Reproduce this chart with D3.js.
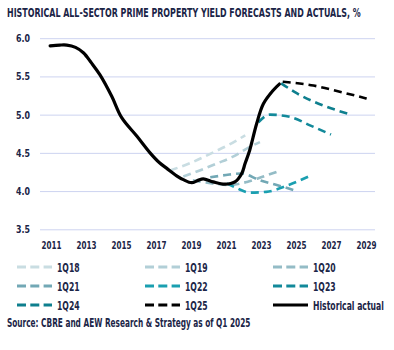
<!DOCTYPE html>
<html>
<head>
<meta charset="utf-8">
<script src="https://cdn.jsdelivr.net/npm/d3@7"></script>
<style>
  body { margin: 0; background: #fff; }
  text { font-family: "DejaVu Sans Condensed", "DejaVu Sans", sans-serif; fill: #1b2547; font-weight: bold; }
</style>
</head>
<body>
<div class="chart"></div>
<script>
var histYears = [2010.95, 2011.5, 2011.9, 2012.4, 2012.85, 2013.3, 2013.8, 2014.47, 2015.04, 2015.9, 2016.66, 2017.2, 2017.6, 2018.18, 2018.56, 2019.04, 2019.4, 2019.7, 2020.27, 2020.94, 2021.51, 2021.9, 2022.09, 2022.35, 2022.75, 2023.13, 2023.7, 2024.05];
var histValues = [5.90, 5.91, 5.91, 5.88, 5.81, 5.68, 5.52, 5.24, 4.96, 4.72, 4.50, 4.37, 4.30, 4.20, 4.15, 4.11, 4.14, 4.16, 4.12, 4.09, 4.12, 4.23, 4.36, 4.53, 4.88, 5.14, 5.32, 5.40];

var forecastNames = ["1Q18", "1Q19", "1Q20", "1Q21", "1Q22", "1Q23", "1Q24", "1Q25"];
var forecastYears = [
    [2017.8, 2019, 2020.3, 2021.2, 2022.1],
    [2018.56, 2019.5, 2020.47, 2021.4, 2022.37, 2022.94],
    [2019.1, 2020.2, 2021.2, 2022.2, 2023, 2024],
    [2020.1, 2021, 2021.9, 2022.94, 2023.9, 2025.04],
    [2021.04, 2021.6, 2022.37, 2023.3, 2024.47, 2025.9],
    [2022.85, 2023.5, 2024.66, 2025.8, 2027.0],
    [2024.15, 2025.04, 2026.56, 2028.0],
    [2024.24, 2026.0, 2027.5, 2029.04]
];
var forecastValues = [
    [4.27, 4.37, 4.51, 4.61, 4.73],
    [4.19, 4.27, 4.36, 4.45, 4.58, 4.64],
    [4.14, 4.10, 4.08, 4.12, 4.18, 4.26],
    [4.18, 4.21, 4.23, 4.14, 4.08, 4.00],
    [4.10, 4.04, 3.98, 3.99, 4.07, 4.21],
    [4.90, 5.00, 4.97, 4.86, 4.74],
    [5.41, 5.28, 5.12, 5.01],
    [5.43, 5.38, 5.30, 5.21]
];
var forecastColors = ["#c9dde2", "#b2cfd7", "#94bcc6", "#72a8b5", "#1a9fb0", "#12899a", "#0e7f8e", "#000000"];

var xTicks = [2011, 2013, 2015, 2017, 2019, 2021, 2023, 2025, 2027, 2029];
var yTicks = [3.5, 4.0, 4.5, 5.0, 5.5, 6.0];

var width = 394, height = 350;

var x = d3.scaleLinear().domain([2011, 2029]).range([51, 366]);
var y = d3.scaleLinear().domain([3.5, 6.0]).range([229.3, 38.2]);

// squeeze text horizontally, the original uses a condensed face
function squeeze(sel, k) {
    sel.each(function() {
        var t = d3.select(this);
        var tx = +t.attr("x") || 0;
        var ty = +t.attr("y") || 0;
        t.attr("x", 0).attr("y", 0)
         .attr("transform", "translate(" + tx + "," + ty + ") scale(" + k + ",1)");
    });
}
// factor so that the i-th text of sel ends up w px wide
function fitK(sel, i, w) {
    return w / sel.nodes()[i].getComputedTextLength();
}

var svg = d3.select(".chart").append("svg")
    .attr("width", width)
    .attr("height", height);

var title = svg.append("text")
    .attr("x", 7).attr("y", 17)
    .attr("font-size", 12)
    .text("HISTORICAL ALL-SECTOR PRIME PROPERTY YIELD FORECASTS AND ACTUALS, %");
squeeze(title, fitK(title, 0, 354));

// y axis + gridlines
var yAxis = d3.axisLeft(y)
    .tickValues(yTicks)
    .tickFormat(d3.format(".1f"))
    .tickSize(-335)
    .tickPadding(10);

var gy = svg.append("g")
    .attr("transform", "translate(40,0)")
    .call(yAxis);
gy.select(".domain").remove();
gy.selectAll("line").attr("stroke", "#cdd3f0").attr("stroke-width", 1);
var yt = gy.selectAll("text").attr("font-size", 11).attr("font-family", null);
squeeze(yt, fitK(yt, 1, 14));

// x axis
var xAxis = d3.axisBottom(x)
    .tickValues(xTicks)
    .tickFormat(d3.format("d"))
    .tickSize(0)
    .tickPadding(0);

var gx = svg.append("g")
    .attr("transform", "translate(0,241)")
    .call(xAxis);
gx.select(".domain").remove();
var xt = gx.selectAll("text").attr("font-size", 11).attr("font-family", null);
squeeze(xt, fitK(xt, 1, 20));

var line = d3.line()
    .x(function(d) { return x(d[0]); })
    .y(function(d) { return y(d[1]); })
    .curve(d3.curveMonotoneX);

forecastNames.forEach(function(name, i) {
    var pts = d3.zip(forecastYears[i], forecastValues[i]);
    svg.append("path")
        .attr("d", line(pts))
        .attr("fill", "none")
        .attr("stroke", forecastColors[i])
        .attr("stroke-width", 2.6)
        .attr("stroke-dasharray", "8,5");
});

svg.append("path")
    .attr("d", line.curve(d3.curveCatmullRom.alpha(0.5))(d3.zip(histYears, histValues)))
    .attr("fill", "none")
    .attr("stroke", "#000")
    .attr("stroke-width", 3.2)
    .attr("stroke-linecap", "round");

// legend
var legendItems = forecastNames.map(function(n, i) { return { name: n, color: forecastColors[i], dash: true }; });
legendItems.push({ name: "Historical actual", color: "#000", dash: false });

var legend = svg.selectAll(".legend")
    .data(legendItems)
    .enter().append("g")
    .attr("class", "legend")
    .attr("transform", function(d, i) {
        return "translate(" + (17 + (i % 3) * 128) + "," + (267 + Math.floor(i / 3) * 19) + ")";
    });

legend.append("line")
    .attr("x1", 0).attr("x2", 35)
    .attr("stroke", function(d) { return d.color; })
    .attr("stroke-width", 3)
    .attr("stroke-dasharray", function(d) { return d.dash ? "9,4.3" : null; });

var lt = legend.append("text")
    .attr("x", 40).attr("y", 4.5)
    .attr("font-size", 11.5)
    .text(function(d) { return d.name; });
squeeze(lt, fitK(lt, 8, 71));

var source = svg.append("text")
    .attr("x", 7).attr("y", 327)
    .attr("font-size", 11.5)
    .text("Source: CBRE and AEW Research & Strategy as of Q1 2025");
squeeze(source, fitK(source, 0, 244));
</script>
</body>
</html>
